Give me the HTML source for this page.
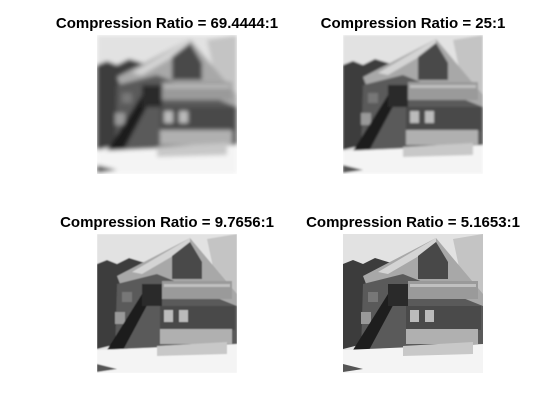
<!DOCTYPE html>
<html><head><meta charset="utf-8"><style>
html,body{margin:0;padding:0;background:#fff;width:560px;height:420px;overflow:hidden}
text{font-family:"Liberation Sans",Arial,sans-serif;font-weight:bold;font-size:15px;fill:#000}
</style></head><body>
<svg width="560" height="420" viewBox="0 0 560 420">
<defs>
<filter id="b3"><feGaussianBlur stdDeviation="2.2"/></filter>
<filter id="b2"><feGaussianBlur stdDeviation="1.1"/></filter>
<filter id="b1"><feGaussianBlur stdDeviation="0.5"/></filter>
<clipPath id="clip"><rect x="0" y="0" width="140" height="139"/></clipPath>
<symbol id="house" viewBox="0 0 140 139" width="140" height="139">
<g clip-path="url(#clip)">
<rect x="0" y="0" width="140" height="139" fill="#e2e2e2"/>
<path d="M0,30 L10,26 L20,30 L32,24 L45,28 L55,30 L40,60 L20,110 L0,115 Z" fill="#3c3c3c"/>
<path d="M110,5 L140,0 L140,80 L125,75 Z" fill="#c4c4c4"/>
<path d="M93,4 L20,42 L25,55 L60,40 L140,72 L140,60 Z" fill="#a8a8a8"/>
<path d="M93,4 L35,38 L45,40 L93,12 Z" fill="#d4d4d4"/>
<path d="M20,50 L60,40 L140,72 L140,118 L18,118 Z" fill="#5a5a5a"/>
<path d="M75,22 L93,8 L105,28 L105,45 L75,45 Z" fill="#484848"/>
<rect x="65" y="47" width="70" height="18" fill="#9a9a9a"/>
<rect x="67" y="50" width="66" height="3" fill="#c0c0c0"/>
<rect x="63" y="72" width="75" height="24" fill="#4a4a4a"/>
<rect x="67" y="76" width="9" height="12" fill="#bbb"/>
<rect x="82" y="76" width="9" height="12" fill="#bbb"/>
<rect x="63" y="95" width="72" height="15" fill="#b0b0b0"/>
<rect x="18" y="78" width="10" height="12" fill="#999"/>
<rect x="25" y="58" width="10" height="10" fill="#777"/>
<path d="M10,116 L45,60 L55,62 L25,118 Z" fill="#1e1e1e"/>
<rect x="45" y="50" width="20" height="22" fill="#2a2a2a"/>
<path d="M0,116 L140,110 L140,139 L0,139 Z" fill="#f4f4f4"/>
<path d="M0,130 L20,135 L0,138 Z" fill="#555"/>
<path d="M60,112 L130,108 L130,120 L60,122 Z" fill="#c8c8c8"/>
</g>
</symbol>
</defs>
<text x="167" y="28" text-anchor="middle">Compression Ratio = 69.4444:1</text>
<text x="413" y="28" text-anchor="middle">Compression Ratio = 25:1</text>
<text x="167" y="227" text-anchor="middle">Compression Ratio = 9.7656:1</text>
<text x="413" y="227" text-anchor="middle">Compression Ratio = 5.1653:1</text>
<svg x="97" y="35" width="140" height="139"><g filter="url(#b3)"><use href="#house"/></g></svg>
<svg x="343" y="35" width="140" height="139"><g filter="url(#b2)"><use href="#house"/></g></svg>
<svg x="97" y="234" width="140" height="139"><g filter="url(#b1)"><use href="#house"/></g></svg>
<svg x="343" y="234" width="140" height="139"><use href="#house"/></svg>
</svg>
</body></html>
